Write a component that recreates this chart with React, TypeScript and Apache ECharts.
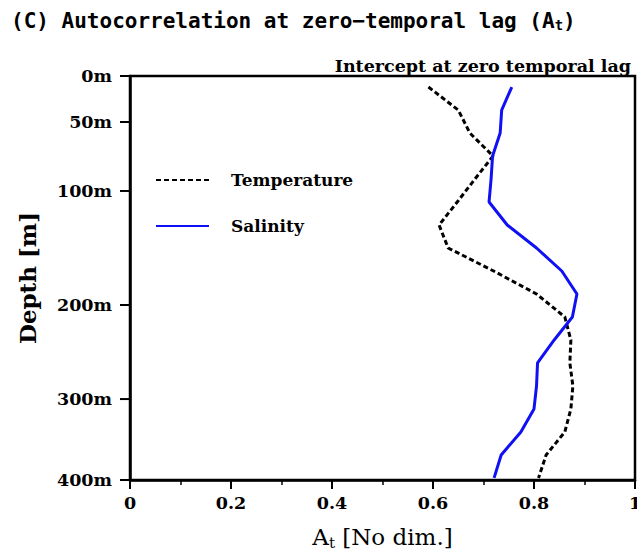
import React, { useEffect, useRef } from "react";
import * as echarts from "echarts";

// Model levels (uniformly spaced on the chart's vertical axis)
const LEVELS = [0, 1, 2, 3, 4, 5, 6, 7, 8, 9, 10, 11, 12, 13, 14, 15, 16, 17];
const TEMPERATURE = [0.591, 0.650, 0.673, 0.719, 0.683, 0.648, 0.612, 0.630, 0.720, 0.805, 0.861, 0.873, 0.871, 0.877, 0.873, 0.861, 0.824, 0.809];
const SALINITY = [0.756, 0.736, 0.733, 0.718, 0.715, 0.711, 0.747, 0.805, 0.855, 0.885, 0.876, 0.840, 0.807, 0.805, 0.800, 0.774, 0.735, 0.721];

// Depth ticks and where they sit in model-level coordinates
const DEPTH_TICK_LABELS = ["0m", "50m", "100m", "200m", "300m", "400m"];
const DEPTH_TICK_LEVELS = [-0.48, 1.52, 4.52, 9.48, 13.57, 17.09];

const X_MIN = 0;
const X_MAX = 1;
const X_INTERVAL = 0.2;

const SERIF = '"DejaVu Serif", serif';
const MONO = '"DejaVu Sans Mono", monospace';

export default function App() {
  const ref = useRef<HTMLDivElement>(null);
  useEffect(() => {
    if (!ref.current) return;
    const chart = echarts.init(ref.current, null, { renderer: "svg" });
    const option: any = {
      animation: false,
      backgroundColor: "#fff",
      title: [
        {
          text: "(C) Autocorrelation at zero\u2212temporal lag (A{sub|t})",
          left: 6,
          top: 5,
          textStyle: {
            fontFamily: MONO,
            fontSize: 21,
            fontWeight: "bold",
            color: "#000",
            rich: {
              sub: {
                fontFamily: MONO,
                fontSize: 14,
                fontWeight: "bold",
                padding: [8, 0, 0, 0],
                color: "#000",
              },
            },
          },
        },
        {
          text: "Intercept at zero temporal lag",
          right: 1,
          top: 52,
          textStyle: { fontFamily: SERIF, fontSize: 17.5, fontWeight: "bold", color: "#000" },
        },
      ],
      legend: {
        orient: "vertical",
        left: 155,
        top: 170,
        padding: 0,
        itemWidth: 53,
        itemHeight: 14,
        itemGap: 26,
        data: ["Temperature", "Salinity"],
        itemStyle: { opacity: 0 },
        textStyle: {
          fontFamily: SERIF,
          fontSize: 17,
          lineHeight: 20,
          fontWeight: "bold",
          color: "#000",
          padding: [0, 0, 0, 17],
        },
      },
      grid: {
        left: 130,
        right: 2,
        top: 76,
        bottom: 74,
        containLabel: false,
        outerBoundsMode: "none",
        show: true,
        borderColor: "#000",
        borderWidth: 2.5,
        backgroundColor: "transparent",
      },
      xAxis: {
        type: "value",
        min: X_MIN,
        max: X_MAX,
        interval: X_INTERVAL,
        name: "A{sub|t} [No dim.]",
        nameLocation: "middle",
        nameGap: 44,
        nameTextStyle: {
          fontFamily: SERIF,
          fontSize: 23,
          color: "#000",
          rich: {
            sub: { fontFamily: SERIF, fontSize: 15, padding: [11, 0, 0, 0], color: "#000" },
          },
        },
        axisLine: { show: true, onZero: false, lineStyle: { color: "#000", width: 2.5 } },
        axisTick: { show: true, inside: false, length: 9, lineStyle: { color: "#000", width: 2 } },
        minorTick: { show: true, splitNumber: 2, length: 5, lineStyle: { color: "#000", width: 1.5 } },
        splitLine: { show: false },
        axisLabel: {
          margin: 14,
          fontFamily: SERIF,
          fontSize: 17.5,
          fontWeight: "bold",
          color: "#000",
          formatter: (v: number) => (v === 0 || v === 1 ? String(v) : v.toFixed(1)),
        },
      },
      yAxis: {
        type: "value",
        inverse: true,
        min: DEPTH_TICK_LEVELS[0],
        max: DEPTH_TICK_LEVELS[DEPTH_TICK_LEVELS.length - 1],
        name: "Depth [m]",
        nameLocation: "middle",
        nameRotate: 90,
        nameGap: 91,
        nameTextStyle: { fontFamily: SERIF, fontSize: 23, fontWeight: "bold", color: "#000" },
        axisLine: { show: true, onZero: false, lineStyle: { color: "#000", width: 2.5 } },
        axisTick: { show: false },
        axisLabel: { show: false },
        splitLine: { show: false },
      },
      series: [
        {
          name: "Temperature",
          type: "line",
          data: LEVELS.map((lv, i) => [TEMPERATURE[i], lv]),
          showSymbol: false,
          symbol: "none",
          lineStyle: { color: "#000", width: 3, type: [5, 3] },
          itemStyle: { color: "#000" },
        },
        {
          name: "Salinity",
          type: "line",
          data: LEVELS.map((lv, i) => [SALINITY[i], lv]),
          showSymbol: false,
          symbol: "none",
          lineStyle: { color: "#1010f5", width: 3 },
          itemStyle: { color: "#1010f5" },
        },
        {
          name: "depthTicks",
          type: "custom",
          clip: false,
          silent: true,
          data: DEPTH_TICK_LEVELS.map((lv, i) => [X_MIN, lv, i]),
          renderItem: (params: any, api: any) => {
            const p = api.coord([X_MIN, api.value(1)]);
            const label = DEPTH_TICK_LABELS[params.dataIndex];
            return {
              type: "group",
              children: [
                {
                  type: "line",
                  shape: { x1: p[0] - 10, y1: p[1], x2: p[0], y2: p[1] },
                  style: { stroke: "#000", lineWidth: 2 },
                },
                {
                  type: "text",
                  style: {
                    text: label,
                    x: p[0] - 18,
                    y: p[1],
                    align: "right",
                    verticalAlign: "middle",
                    font: `bold 17.5px ${SERIF}`,
                    fill: "#000",
                  },
                },
              ],
            };
          },
        },
      ],
    };
    chart.setOption(option);
    return () => chart.dispose();
  }, []);
  return (
    <div
      ref={ref}
      style={{ position: "fixed", left: 0, top: 0, width: 637, height: 554, background: "#fff" }}
    />
  );
}
